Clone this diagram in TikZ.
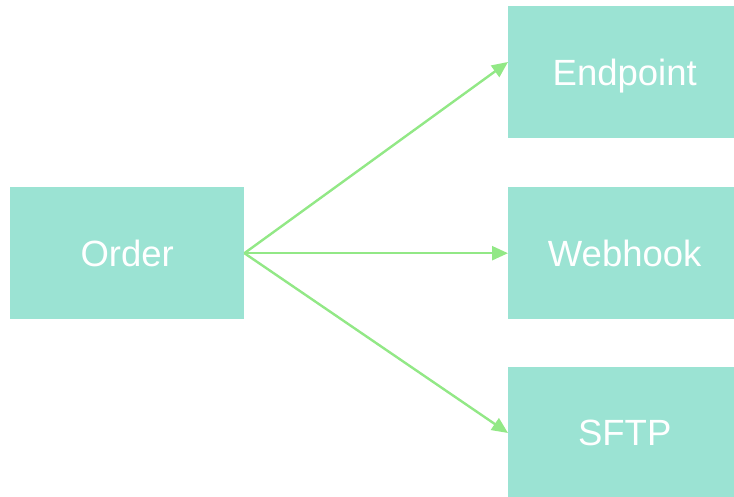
\documentclass[tikz,border=0pt]{standalone}
\usepackage{fontspec}
\setmainfont{Liberation Sans}
\usetikzlibrary{arrows.meta}
\definecolor{boxfill}{HTML}{9BE3D3}
\definecolor{arrowgreen}{HTML}{92E886}
\newcommand{\rpad}{\hspace*{7pt}}
\begin{document}
\begin{tikzpicture}[x=1pt,y=-1pt,
  box/.style={fill=boxfill,draw=none,text=white,anchor=north west,inner sep=0pt,
    text height=26pt,text depth=0pt,
    font=\fontsize{36.5}{42}\selectfont},
  conn/.style={draw=arrowgreen,line width=2.4pt,-{Triangle[length=16pt,width=14pt]}}]
\useasboundingbox (0,0) rectangle (734,497);
\node[box,minimum width=234pt,minimum height=132pt] (order) at (10,187) {Order};
\node[box,minimum width=226pt,minimum height=132pt] (endpoint) at (508,6) {\rpad Endpoint};
\node[box,minimum width=226pt,minimum height=132pt] (webhook) at (508,187) {\rpad Webhook};
\node[box,minimum width=226pt,minimum height=130pt] (sftp) at (508,367) {\rpad SFTP};
\coordinate (eIn) at (508,62);
\coordinate (sIn) at (508,433);
\draw[conn] (order.east) -- (eIn);
\draw[conn] (order.east) -- (webhook.west);
\draw[conn] (order.east) -- (sIn);
\end{tikzpicture}
\end{document}
